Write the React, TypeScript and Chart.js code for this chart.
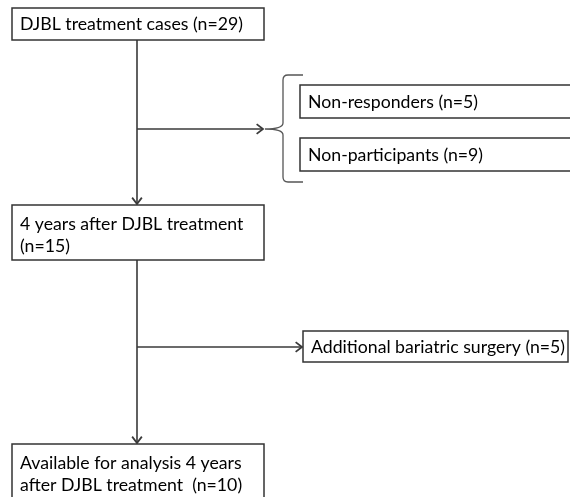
import React, { useEffect, useRef } from "react";
import { Chart, registerables } from "chart.js";

Chart.register(...registerables);

// ---- data ----
const nodeLabels: string[][] = [
  ["DJBL treatment cases (n=29)"],
  ["Non-responders (n=5)"],
  ["Non-participants (n=9)"],
  ["4 years after DJBL treatment", "(n=15)"],
  ["Additional bariatric surgery (n=5)"],
  ["Available for analysis 4 years", "after DJBL treatment  (n=10)"],
];
const nodeCounts: number[] = [29, 5, 9, 15, 5, 10];

// ---- layout (in chart units, x: 0..570, y: 0..497 top-down) ----
const boxLeft = [12, 300, 300, 12, 303, 12];
const boxTop = [8, 85, 138, 205, 331, 444];
const boxRight = [264, 600, 600, 264, 568, 264];
const boxBottom = [40, 118, 171, 260, 362, 540];

// connectors: [x1, y1, x2, y2, arrow]
const connectors: [number, number, number, number, boolean][] = [
  [137, 40, 137, 204, true],
  [137, 129, 263, 129, true],
  [137, 260, 137, 443, true],
  [137, 347, 302, 347, true],
];

const LINE = "#3a3a3a";
const FONT = "Lato, 'Open Sans', sans-serif";

const flowPlugin = {
  id: "flow",
  afterDatasetsDraw(chart: any) {
    const ctx = chart.ctx as CanvasRenderingContext2D;
    const xs = chart.scales.x;
    const ys = chart.scales.y;
    const px = (v: number) => xs.getPixelForValue(v);
    const py = (v: number) => ys.getPixelForValue(v);
    ctx.save();
    // arrowheads
    ctx.strokeStyle = LINE;
    ctx.lineWidth = 1.8;
    connectors.forEach(([x1, y1, x2, y2, arrow]) => {
      if (!arrow) return;
      const X2 = px(x2), Y2 = py(y2), X1 = px(x1), Y1 = py(y1);
      const ang = Math.atan2(Y2 - Y1, X2 - X1);
      const L = 8;
      ctx.beginPath();
      ctx.moveTo(X2 - L * Math.cos(ang - 0.65), Y2 - L * Math.sin(ang - 0.65));
      ctx.lineTo(X2, Y2);
      ctx.lineTo(X2 - L * Math.cos(ang + 0.65), Y2 - L * Math.sin(ang + 0.65));
      ctx.stroke();
    });
    // brace
    ctx.beginPath();
    ctx.lineWidth = 1.3;
    ctx.strokeStyle = "#555";
    const bx = px(283), tipX = px(265), tipY = py(129);
    const top = py(75), bot = py(182), hookX = px(303);
    ctx.moveTo(hookX, top);
    ctx.lineTo(bx + 5, top);
    ctx.quadraticCurveTo(bx, top, bx, top + 5);
    ctx.lineTo(bx, tipY - 6);
    ctx.quadraticCurveTo(bx, tipY, tipX, tipY);
    ctx.quadraticCurveTo(bx, tipY, bx, tipY + 6);
    ctx.lineTo(bx, bot - 5);
    ctx.quadraticCurveTo(bx, bot, bx + 5, bot);
    ctx.lineTo(hookX, bot);
    ctx.stroke();
    // boxes
    nodeLabels.forEach((lines, i) => {
      const l = px(boxLeft[i]), t = py(boxTop[i]);
      const r = px(boxRight[i]), b = py(boxBottom[i]);
      ctx.fillStyle = "#ffffff";
      ctx.fillRect(l, t, r - l, b - t);
      ctx.strokeStyle = "#333";
      ctx.lineWidth = 1.5;
      ctx.strokeRect(l, t, r - l, b - t);
      ctx.fillStyle = "#000";
      ctx.font = `17.7px ${FONT}`;
      ctx.textBaseline = "middle";
      ctx.textAlign = "left";
      const n = lines.length;
      const firstY = n === 1 ? (t + b) / 2 + 0.5 : t + 19;
      lines.forEach((s, k) => ctx.fillText(s, l + 8, firstY + k * 22.5));
    });
    ctx.restore();
  },
};

export default function App() {
  const ref = useRef<HTMLCanvasElement | null>(null);
  useEffect(() => {
    if (!ref.current) return;
    const chart = new Chart(ref.current, {
      type: "scatter",
      data: {
        datasets: connectors.map(([x1, y1, x2, y2]) => ({
          data: [
            { x: x1, y: y1 },
            { x: x2, y: y2 },
          ],
          showLine: true,
          borderColor: LINE,
          borderWidth: 1.6,
          pointRadius: 0,
          fill: false,
        })),
      },
      options: {
        animation: false,
        responsive: true,
        maintainAspectRatio: false,
        layout: { padding: 0 },
        plugins: { legend: { display: false }, tooltip: { enabled: false } },
        scales: {
          x: { type: "linear", min: 0, max: 570, display: false },
          y: { type: "linear", min: 0, max: 497, reverse: true, display: false },
        },
      },
      plugins: [flowPlugin],
    });
    return () => chart.destroy();
  }, []);
  return (
    <div style={{ position: "absolute", left: 0, top: 0, width: 570, height: 497, background: "#fff" }}>
      <canvas ref={ref} data-counts={nodeCounts.join(",")} />
    </div>
  );
}
